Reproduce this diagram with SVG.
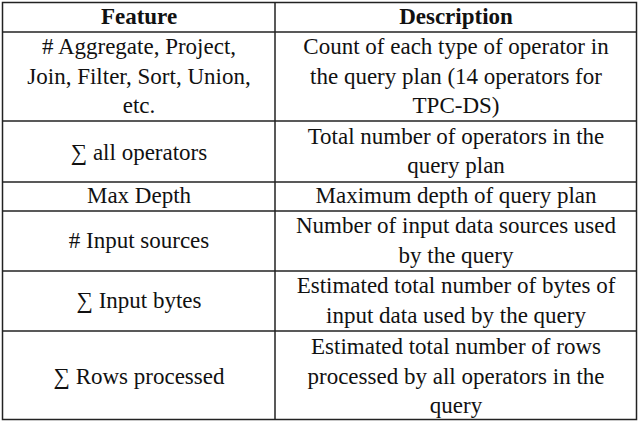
<svg xmlns="http://www.w3.org/2000/svg" width="640" height="423" viewBox="0 0 640 423">
<style>
.l{stroke:#222;stroke-width:1.5;fill:none}
.t text{font-size:23px;fill:#111;text-anchor:middle}
.h{font-weight:bold}
</style>
<rect width="640" height="423" fill="#fff"/>
<g id="grid">
<rect class="l" x="2.5" y="2.5" width="634" height="417"/>
<line class="l" x1="275" y1="2.5" x2="275" y2="419.5"/>
<line class="l" x1="2.5" y1="32" x2="636.5" y2="32"/>
<line class="l" x1="2.5" y1="121" x2="636.5" y2="121"/>
<line class="l" x1="2.5" y1="182" x2="636.5" y2="182"/>
<line class="l" x1="2.5" y1="211" x2="636.5" y2="211"/>
<line class="l" x1="2.5" y1="271" x2="636.5" y2="271"/>
<line class="l" x1="2.5" y1="331" x2="636.5" y2="331"/>
</g>
<g class="t" font-family="Liberation Serif, Times New Roman, DejaVu Serif, serif">
<g id="header">
<text class="h" x="139" y="24">Feature</text>
<text class="h" x="456" y="24">Description</text>
</g>
<g id="row1">
<text x="139" y="54"># Aggregate, Project,</text>
<text x="139" y="84">Join, Filter, Sort, Union,</text>
<text x="139" y="113">etc.</text>
<text x="456" y="54">Count of each type of operator in</text>
<text x="456" y="84">the query plan (14 operators for</text>
<text x="456" y="113">TPC-DS)</text>
</g>
<g id="row2">
<text x="139" y="160">∑ all operators</text>
<text x="456" y="144">Total number of operators in the</text>
<text x="456" y="173">query plan</text>
</g>
<g id="row3">
<text x="139" y="203">Max Depth</text>
<text x="456" y="203">Maximum depth of query plan</text>
</g>
<g id="row4">
<text x="139" y="248"># Input sources</text>
<text x="456" y="233">Number of input data sources used</text>
<text x="456" y="263">by the query</text>
</g>
<g id="row5">
<text x="139" y="308">∑ Input bytes</text>
<text x="456" y="293">Estimated total number of bytes of</text>
<text x="456" y="323">input data used by the query</text>
</g>
<g id="row6">
<text x="139" y="384">∑ Rows processed</text>
<text x="456" y="354">Estimated total number of rows</text>
<text x="456" y="384">processed by all operators in the</text>
<text x="456" y="413">query</text>
</g>
</g>
</svg>
